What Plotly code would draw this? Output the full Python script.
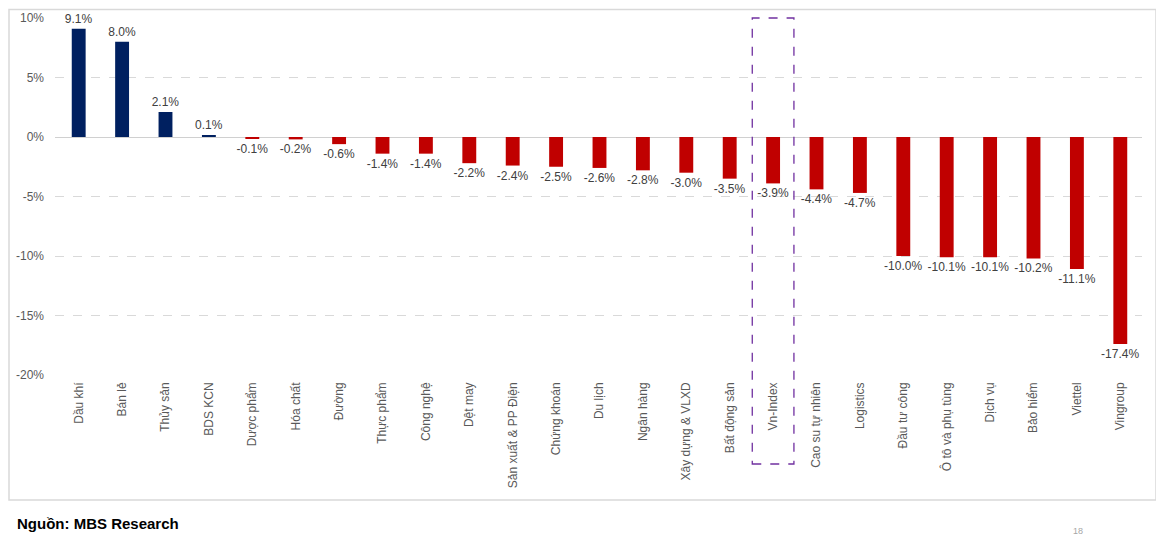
import plotly.graph_objects as go

categories = ["Dầu khí", "Bán lẻ", "Thủy sản", "BDS KCN", "Dược phẩm", "Hóa chất", "Đường",
              "Thực phẩm", "Công nghệ", "Dệt may", "Sản xuất & PP Điện", "Chứng khoán",
              "Du lịch", "Ngân hàng", "Xây dựng & VLXD", "Bất động sản", "Vn-Index",
              "Cao su tự nhiên", "Logistics", "Đầu tư công", "Ô tô và phụ tùng", "Dịch vụ",
              "Bảo hiểm", "Viettel", "Vingroup"]
values = [9.1, 8.0, 2.1, 0.1, -0.1, -0.2, -0.6, -1.4, -1.4, -2.2, -2.4, -2.5, -2.6, -2.8,
          -3.0, -3.5, -3.9, -4.4, -4.7, -10.0, -10.1, -10.1, -10.2, -11.1, -17.4]
y_ticks = [10, 5, 0, -5, -10, -15, -20]
y_tick_labels = ["10%", "5%", "0%", "-5%", "-10%", "-15%", "-20%"]
highlight = "Vn-Index"
source_text = "Nguồn: MBS Research"

BLUE = "#002060"
RED = "#C00000"
colors = [BLUE if v >= 0 else RED for v in values]

OFF = 8  # page body offset
W, H = 1164, 538
ML, MT = 55 - OFF, 18 - OFF
MR = W - (1142 - OFF)
MB = H - (375 - OFF)
pw = W - ML - MR
ph = H - MT - MB

def px_x(px):
    return (px - OFF - ML) / pw

def px_y(py):
    return (H - MB - (py - OFF)) / ph

fig = go.Figure()
fig.add_trace(go.Bar(
    x=categories, y=values,
    marker=dict(color=colors, line=dict(width=0)),
    width=0.32,
    text=values,
    texttemplate="%{y:.1f}%",
    textposition="outside",
    constraintext="none",
    textfont=dict(family="Liberation Sans, Arial", size=12, color="#404040"),
    cliponaxis=False,
    hoverinfo="skip",
))

hi = categories.index(highlight)
shapes = [
    dict(type="rect", xref="paper", yref="paper",
         x0=px_x(9), x1=px_x(1156), y0=px_y(500), y1=px_y(9.5),
         line=dict(color="#d9d9d9", width=1.5), fillcolor="rgba(0,0,0,0)", layer="above"),
    dict(type="rect", xref="x", yref="paper",
         x0=hi - 0.48, x1=hi + 0.48, y0=px_y(464), y1=1.0,
         line=dict(color="#7030A0", width=1.3, dash="dash"), fillcolor="rgba(0,0,0,0)"),
]

fig.update_layout(
    width=W, height=H,
    margin=dict(l=ML, r=MR, t=MT, b=MB, pad=0, autoexpand=False),
    plot_bgcolor="white", paper_bgcolor="white",
    showlegend=False,
    font=dict(family="Liberation Sans, Arial", size=12, color="#595959"),
    shapes=shapes,
    xaxis=dict(
        tickangle=-90, showgrid=False, showline=False, zeroline=False,
        tickfont=dict(size=12, color="#595959"), ticks="", automargin=False,
        ticklabelstandoff=4,
        range=[-0.5 - 2 / 43.5, len(categories) - 0.5],
    ),
    yaxis=dict(
        range=[-20, 10], tickvals=y_ticks, ticktext=y_tick_labels,
        showgrid=True, gridcolor="#d9d9d9", griddash="dash", gridwidth=1,
        zeroline=True, zerolinecolor="#d0d0d0", zerolinewidth=1,
        showline=False, ticks="", ticklabelstandoff=10, automargin=False,
        tickfont=dict(size=12, color="#595959"),
    ),
    annotations=[
        dict(text="<b>" + source_text + "</b>", xref="paper", yref="paper",
             x=px_x(15), y=px_y(523), xanchor="left", yanchor="middle", showarrow=False,
             font=dict(family="Liberation Sans, Arial", size=15, color="#000000")),
        dict(text="18", xref="paper", yref="paper",
             x=px_x(1078), y=px_y(531), xanchor="center", yanchor="middle", showarrow=False,
             font=dict(family="Liberation Sans, Arial", size=9, color="#a6a6a6")),
    ],
)

fig.write_html("out.html")
